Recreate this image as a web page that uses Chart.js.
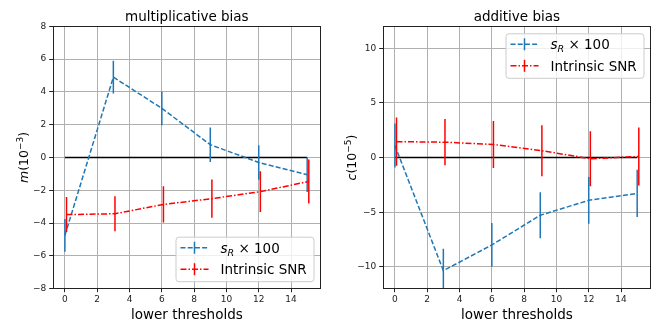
<!DOCTYPE html>
<html>
<head>
<meta charset="utf-8">
<script src="https://cdn.jsdelivr.net/npm/chart.js@4/dist/chart.umd.min.js"></script>
<style>
  html, body { margin: 0; padding: 0; background: #fff; }
  .panel { position: absolute; top: 0; width: 332px; height: 332px; }
</style>
</head>
<body>
<div class="panel" style="left:0"><canvas id="mBias" width="332" height="332"></canvas></div>
<div class="panel" style="left:332px"><canvas id="cBias" width="332" height="332"></canvas></div>
<script>
// thresholds (SNR series is shifted by 0.1 in the plot)
const thresholds = [0, 3, 6, 9, 12, 15];
const snrThresholds = [0.1, 3.1, 6.1, 9.1, 12.1, 15.1];
const xTicks = [0, 2, 4, 6, 8, 10, 12, 14];
const zeroX = [0, 15];
const zeroY = [0, 0];

// multiplicative bias m (1e-3)
const mSR = [-4.75, 4.9, 3.0, 0.78, -0.3, -1.05];
const mSRerr = [1.0, 1.0, 1.03, 1.05, 1.05, 1.05];
const mSNR = [-3.48, -3.43, -2.86, -2.51, -2.08, -1.46];
const mSNRerr = [1.07, 1.07, 1.1, 1.17, 1.24, 1.34];
const mTicks = [-8, -6, -4, -2, 0, 2, 4, 6, 8];

// additive bias c (1e-5)
const cSR = [1.1, -10.35, -8.0, -5.28, -3.92, -3.28];
const cSRerr = [2.02, 2.0, 2.0, 2.1, 2.14, 2.17];
const cSNR = [1.45, 1.4, 1.19, 0.62, -0.11, 0.09];
const cSNRerr = [2.2, 2.11, 2.14, 2.34, 2.52, 2.66];
const cTicks = [-10, -5, 0, 5, 10];

const FONT = 'DejaVu Sans';
const BLUE = '#1f77b4';
const RED = '#ff0000';

const xy = (xs, ys) => xs.map((x, i) => ({ x: x, y: ys[i] }));
const fmt = v => (v < 0 ? '\u2212' + Math.abs(v) : String(v));

// draw a run of text pieces with different fonts, centred on x
function drawRich(ctx, parts, x, y, align) {
  let total = 0;
  parts.forEach(p => { ctx.font = p.font; total += ctx.measureText(p.t).width; });
  let cx = align === 'left' ? x : x - total / 2;
  parts.forEach(p => {
    ctx.font = p.font;
    ctx.fillText(p.t, cx, y + (p.dy || 0));
    cx += ctx.measureText(p.t).width;
  });
}

const errorBars = {
  id: 'errorBars',
  afterDatasetDraw(chart, args) {
    const ds = chart.data.datasets[args.index];
    if (!ds.errors) return;
    const { ctx, chartArea: a, scales: { x, y } } = chart;
    ctx.save();
    ctx.beginPath();
    ctx.rect(a.left, a.top, a.right - a.left, a.bottom - a.top);
    ctx.clip();
    ctx.strokeStyle = ds.borderColor;
    ctx.lineWidth = 1.5;
    ctx.setLineDash([]);
    ds.data.forEach((p, i) => {
      const px = x.getPixelForValue(p.x);
      ctx.beginPath();
      ctx.moveTo(px, y.getPixelForValue(p.y - ds.errors[i]));
      ctx.lineTo(px, y.getPixelForValue(p.y + ds.errors[i]));
      ctx.stroke();
    });
    ctx.restore();
  }
};

const decorations = {
  id: 'decorations',
  afterDraw(chart, args, opts) {
    const { ctx, chartArea: a } = chart;
    ctx.save();
    // frame
    ctx.strokeStyle = '#222';
    ctx.lineWidth = 1;
    ctx.setLineDash([]);
    ctx.strokeRect(Math.round(a.left) + 0.5, Math.round(a.top) + 0.5,
      Math.round(a.right - a.left) - 1, Math.round(a.bottom - a.top));

    ctx.fillStyle = '#000';
    ctx.textBaseline = 'alphabetic';
    ctx.textAlign = 'left';
    const cx = (a.left + a.right) / 2;
    drawRich(ctx, [{ t: opts.title, font: '13.5px ' + FONT }], cx, 21);
    drawRich(ctx, [{ t: 'lower thresholds', font: '13.5px ' + FONT }], cx, 319);

    // y label, rotated
    ctx.save();
    ctx.translate(opts.ylabelX, (a.top + a.bottom) / 2);
    ctx.rotate(-Math.PI / 2);
    drawRich(ctx, [
      { t: opts.ylabelVar, font: 'italic 12.5px ' + FONT },
      { t: '(10', font: '12.5px ' + FONT },
      { t: opts.ylabelExp, font: '9px ' + FONT, dy: -5 },
      { t: ')', font: '12.5px ' + FONT }
    ], 0, 0);
    ctx.restore();

    // legend
    const w = 138, h = 44.5;
    const bx = a.right - 7.5 - w;
    const by = opts.legendTop ? a.top + 7 : a.bottom - 7.5 - h;
    ctx.beginPath();
    ctx.roundRect(bx + 0.5, by + 0.5, w, h, 3);
    ctx.fillStyle = 'rgba(255,255,255,0.8)';
    ctx.fill();
    ctx.strokeStyle = '#cccccc';
    ctx.stroke();
    const rows = [
      { color: BLUE, dash: [5, 2.2], parts: [
        { t: 's', font: 'italic 13.5px ' + FONT },
        { t: 'R', font: 'italic 9.5px ' + FONT, dy: 3 },
        { t: ' \u00d7 100', font: '13.5px ' + FONT }] },
      { color: RED, dash: [6, 2, 1.5, 2], parts: [
        { t: 'Intrinsic SNR', font: '13.5px ' + FONT }] }
    ];
    rows.forEach((r, i) => {
      const ry = by + 11 + i * 21.5;
      ctx.strokeStyle = r.color;
      ctx.lineWidth = 1.5;
      ctx.setLineDash(r.dash);
      ctx.beginPath();
      ctx.moveTo(bx + 5, ry);
      ctx.lineTo(bx + 33, ry);
      ctx.stroke();
      ctx.setLineDash([]);
      ctx.beginPath();
      ctx.moveTo(bx + 19, ry - 6);
      ctx.lineTo(bx + 19, ry + 6);
      ctx.stroke();
      ctx.fillStyle = '#000';
      drawRich(ctx, r.parts, bx + 45, ry + 5, 'left');
    });
    ctx.restore();
  }
};

function makePanel(id, cfg) {
  const tickFont = { family: FONT, size: 9 };
  return new Chart(document.getElementById(id), {
    type: 'line',
    data: {
      datasets: [
        { data: xy(zeroX, zeroY), borderColor: '#000', borderWidth: 1.5, pointRadius: 0, order: 3 },
        { data: xy(thresholds, cfg.sr), errors: cfg.srErr, borderColor: BLUE, borderWidth: 1.5,
          borderDash: [5, 2.2], pointRadius: 0, order: 2 },
        { data: xy(snrThresholds, cfg.snr), errors: cfg.snrErr, borderColor: RED, borderWidth: 1.5,
          borderDash: [6, 2, 1.5, 2], pointRadius: 0, order: 1 }
      ]
    },
    options: {
      responsive: false,
      animation: false,
      events: [],
      layout: { padding: { left: 0, right: cfg.padRight, top: 26.3, bottom: 0 } },
      plugins: {
        legend: { display: false },
        tooltip: { enabled: false },
        decorations: cfg.deco
      },
      scales: {
        x: {
          type: 'linear', min: -0.755, max: 15.855,
          afterBuildTicks: s => { s.ticks = xTicks.map(v => ({ value: v })); },
          afterFit: s => { s.height = 43.3; },
          grid: { color: '#b0b0b0', lineWidth: 1, tickLength: 3.5, tickColor: '#222' },
          border: { display: false },
          ticks: { font: tickFont, color: '#222', padding: 2, maxRotation: 0, autoSkip: false, callback: fmt }
        },
        y: {
          type: 'linear', min: cfg.yMin, max: cfg.yMax,
          afterBuildTicks: s => { s.ticks = cfg.yTicks.map(v => ({ value: v })); },
          afterFit: s => { s.width = cfg.yWidth; },
          grid: { color: '#b0b0b0', lineWidth: 1, tickLength: 3.5, tickColor: '#222' },
          border: { display: false },
          ticks: { font: tickFont, color: '#222', padding: 3, autoSkip: false, callback: fmt }
        }
      }
    },
    plugins: [errorBars, decorations]
  });
}

makePanel('mBias', {
  sr: mSR, srErr: mSRerr, snr: mSNR, snrErr: mSNRerr,
  yMin: -8, yMax: 8, yTicks: mTicks, yWidth: 52.7, padRight: 11,
  deco: { title: 'multiplicative bias', ylabelVar: 'm', ylabelExp: '\u22123', ylabelX: 28, legendTop: false }
});

makePanel('cBias', {
  sr: cSR, srErr: cSRerr, snr: cSNR, snrErr: cSNRerr,
  yMin: -12, yMax: 12, yTicks: cTicks, yWidth: 50.7, padRight: 13,
  deco: { title: 'additive bias', ylabelVar: 'c', ylabelExp: '\u22125', ylabelX: 24, legendTop: true }
});
</script>
</body>
</html>
